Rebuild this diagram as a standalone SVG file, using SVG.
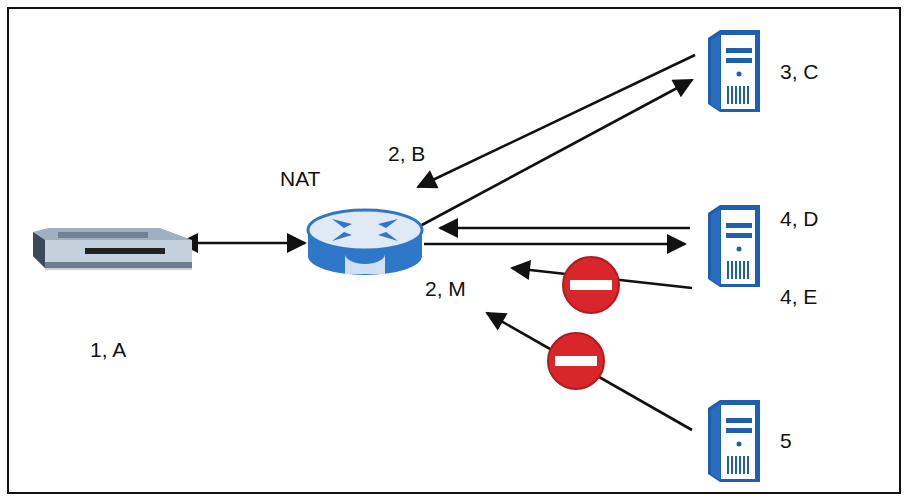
<svg xmlns="http://www.w3.org/2000/svg" width="909" height="501" viewBox="0 0 909 501">
<style>
.t{font-family:"Liberation Sans",Arial,sans-serif;font-size:21px;fill:#111}
.c{stroke:#111;stroke-width:2.6;fill:none}
</style>
<defs>
<marker id="b" viewBox="0 0 10 10" refX="9" refY="5" markerWidth="24" markerHeight="20" markerUnits="userSpaceOnUse" orient="auto-start-reverse"><path d="M0,0L10,5L0,10z" fill="#111"/></marker>
<g id="srv">
<path d="M0,8L12,0L52,0L52,82L12,82L0,74z" fill="#1f5fb0"/>
<path d="M12,4L48,4L48,80L12,80z" fill="#fff" stroke="#1f5fb0" stroke-width="2"/>
<path d="M3,10L12,4L12,80L3,74z" fill="#2a6cc0"/>
<rect x="18" y="18" width="26" height="5" fill="#1f5fb0"/>
<rect x="18" y="28" width="26" height="5" fill="#1f5fb0"/>
<circle cx="31" cy="44" r="2.5" fill="#1f5fb0"/>
<path d="M20,56v18M24,56v18M28,56v18M32,56v18M36,56v18M40,56v18" stroke="#1f5fb0" stroke-width="2"/>
</g>
<g id="stop">
<circle r="28" fill="#d9262b" stroke="#b01c20" stroke-width="2"/>
<rect x="-21" y="-5" width="42" height="10" fill="#fff"/>
</g>
</defs>
<rect x="8" y="8" width="892" height="485" fill="#fff" stroke="#111" stroke-width="2"/>
<g id="connectors">
<line class="c" x1="180" y1="243" x2="305" y2="243" marker-start="url(#b)" marker-end="url(#b)"/>
<line class="c" x1="695" y1="55" x2="418" y2="187" marker-end="url(#b)"/>
<line class="c" x1="420" y1="226" x2="692" y2="80" marker-end="url(#b)"/>
<line class="c" x1="690" y1="228" x2="440" y2="228" marker-end="url(#b)"/>
<line class="c" x1="424" y1="244" x2="685" y2="244" marker-end="url(#b)"/>
<line class="c" x1="692" y1="288" x2="512" y2="268" marker-end="url(#b)"/>
<line class="c" x1="692" y1="430" x2="487" y2="313" marker-end="url(#b)"/>
</g>
<g id="modem">
<path d="M33,232L48,228L160,228L192,240L192,268L45,268L33,256z" fill="#9fb0c0"/>
<path d="M33,232L45,240L45,268L33,256z" fill="#3b4a5a"/>
<path d="M45,240L192,240L192,270L45,270z" fill="#c5d2de"/>
<rect x="45" y="262" width="147" height="6" fill="#6f7e8c"/>
<rect x="58" y="232" width="90" height="6" fill="#6f8296"/>
<rect x="85" y="248" width="80" height="6" fill="#222"/>
</g>
<g id="router">
<path d="M308,230L308,256A57,19 0 0 0 422,256L422,230z" fill="#2f77c8"/>
<ellipse cx="365" cy="230" rx="57" ry="20" fill="#dfeaf6" stroke="#2f77c8" stroke-width="3"/>
<path d="M345,254A20,10 0 0 0 385,254L385,274L345,274z" fill="#cfe0f3"/>
<g fill="#2f77c8"><path d="M332,219l20,5l-8,4z"/><path d="M398,219l-20,5l8,4z"/><path d="M332,241l20,-6l-8,-3z"/><path d="M398,241l-20,-6l8,-3z"/></g>
</g>
<use id="server-3C" href="#srv" x="708" y="30"/>
<use id="server-4DE" href="#srv" x="708" y="205"/>
<use id="server-5" href="#srv" x="708" y="400"/>
<use id="stop1" href="#stop" x="591" y="285"/>
<use id="stop2" href="#stop" x="576" y="361"/>
<g id="labels">
<text class="t" x="780" y="79">3, C</text>
<text class="t" x="780" y="226">4, D</text>
<text class="t" x="780" y="304">4, E</text>
<text class="t" x="780" y="448">5</text>
<text class="t" x="388" y="161">2, B</text>
<text class="t" x="280" y="186">NAT</text>
<text class="t" x="425" y="296">2, M</text>
<text class="t" x="90" y="357">1, A</text>
</g>
</svg>
